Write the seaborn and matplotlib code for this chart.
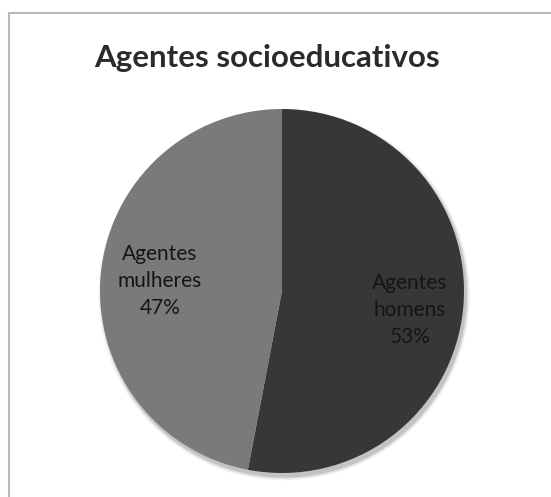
import matplotlib
matplotlib.use("Agg")
import matplotlib.pyplot as plt
from matplotlib.lines import Line2D
import seaborn as sns

sns.set_theme(style="white")
plt.rcParams['font.family'] = ['Lato', 'DejaVu Sans']

title = "Agentes socioeducativos"
categories = ["Agentes\nhomens", "Agentes\nmulheres"]
values = [53, 47]
colors = ["#373737", "#7a7a7a"]

W, H = 551, 497
fig = plt.figure(figsize=(W / 100, H / 100), dpi=100)
fig.patch.set_facecolor("white")

# chart frame (cropped scan: only left and top edges visible)
fig.add_artist(Line2D([9 / W, 9 / W], [0, 1 - 13 / H], color="#b8b8b8", lw=1.5))
fig.add_artist(Line2D([9 / W, 1], [1 - 13 / H, 1 - 13 / H], color="#b8b8b8", lw=1.5))

ax = fig.add_axes([0, 0, 1, 1])
cx, cy, r = 282, 291, 182
ax.axis("off")

# soft shadow
for k, a in [(1.02, 0.05), (1.012, 0.08), (1.005, 0.12)]:
    ax.add_patch(plt.Circle((0.012, -0.02), k, color="#000000", alpha=a, lw=0))

wedges, _ = ax.pie(values, colors=colors, startangle=90, counterclock=False,
                   radius=1, center=(0, 0), wedgeprops=dict(linewidth=0))
ax.set_aspect("equal")
ax.set_xlim(-cx / r, (W - cx) / r)
ax.set_ylim(-(H - cy) / r, cy / r)

label_px = [(410, 310), (160, 281)]
for cat, v, (px, py) in zip(categories, values, label_px):
    ax.text((px - cx) / r, (cy - py) / r, f"{cat}\n{v}%", ha="center", va="center",
            fontsize=15, color="#151515", linespacing=1.45)

fig.text(267 / W, 1 - 58 / H, title, ha="center", va="center", fontsize=22.5,
         fontweight="bold", color="#2b2b2b")

fig.savefig("out.png", dpi=100)
